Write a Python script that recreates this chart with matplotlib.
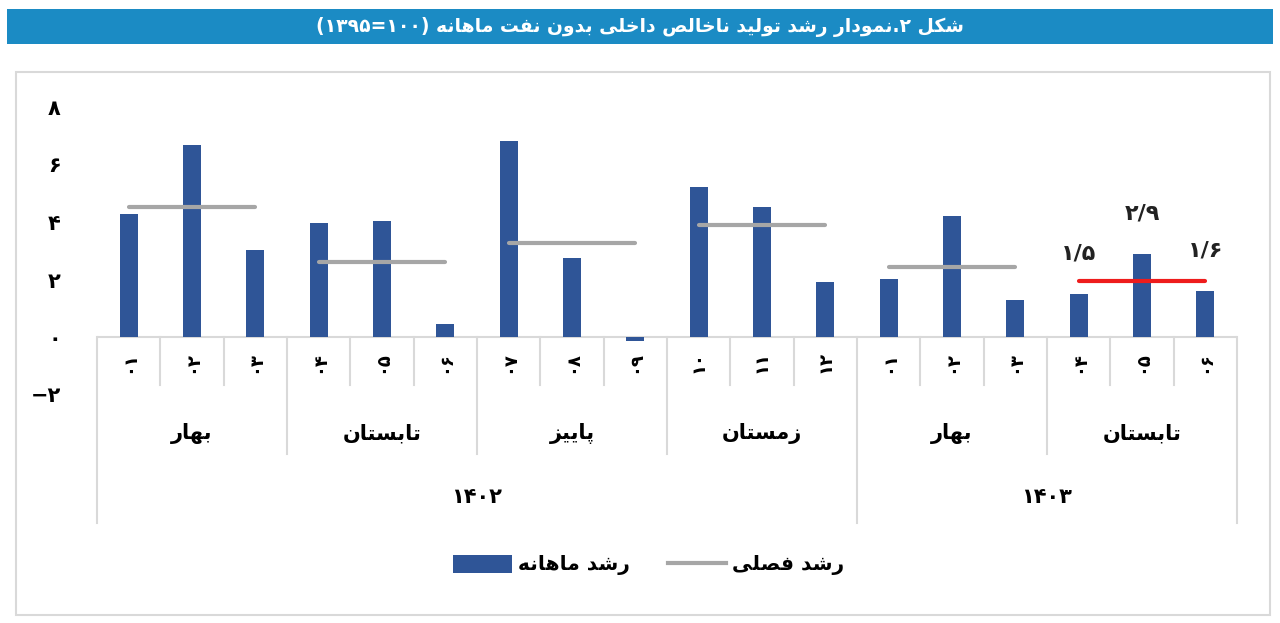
import re
import matplotlib
matplotlib.use('Agg')
import matplotlib.pyplot as plt
from matplotlib.patches import Rectangle, Patch
from matplotlib.lines import Line2D
from matplotlib.transforms import blended_transform_factory

# data
month_labels = ['01', '02', '03', '04', '05', '06', '07', '08', '09', '10', '11', '12',
                '01', '02', '03', '04', '05', '06']
seasons = ['بهار', 'تابستان', 'پاییز', 'زمستان', 'بهار', 'تابستان']
years = ['1402', '1403']
year_months = [12, 6]
monthly = [4.28, 6.68, 3.03, 3.97, 4.03, 0.45, 6.82, 2.75, -0.15, 5.22, 4.52, 1.91,
           2.02, 4.21, 1.29, 1.5, 2.9, 1.6]
seasonal = [4.52, 2.61, 3.27, 3.9, 2.43, 1.95]
y_ticks = [-2, 0, 2, 4, 6, 8]

title = 'شکل ۲.نمودار رشد تولید ناخالص داخلی بدون نفت ماهانه (۱۰۰=۱۳۹۵)'
legend_bar = 'رشد ماهانه'
legend_line = 'رشد فصلی'

BLUE = '#2f5597'
GRAY = '#a6a6a6'
RED = '#ee1c1c'
FRAME = '#d9d9d9'

# minimal arabic shaping (matplotlib has no text shaping / bidi)
JOIN = {
    'ا': (0xFE8D, False), 'ب': (0xFE8F, True), 'پ': (0xFB56, True), 'ت': (0xFE95, True),
    'خ': (0xFEA5, True), 'د': (0xFEA9, False), 'ر': (0xFEAD, False), 'ز': (0xFEAF, False),
    'س': (0xFEB1, True), 'ش': (0xFEB5, True), 'ص': (0xFEB9, True), 'ف': (0xFED1, True),
    'ل': (0xFEDD, True), 'م': (0xFEE1, True), 'ن': (0xFEE5, True), 'ه': (0xFEE9, True),
    'و': (0xFEED, False), 'ک': (0xFB8E, True), 'ی': (0xFBFC, True),
}


def shape(s):
    out = []
    for i, ch in enumerate(s):
        if ch not in JOIN:
            out.append(ch)
            continue
        base, dual = JOIN[ch]
        prev = s[i - 1] if i > 0 else ''
        nxt = s[i + 1] if i + 1 < len(s) else ''
        p = prev in JOIN and JOIN[prev][1]
        n = dual and nxt in JOIN
        form = 3 if (p and n) else 1 if p else 2 if n else 0
        out.append(chr(base + form))
    return ''.join(out)


def fa(s):
    tokens = re.findall(r'[۰-۹0-9]+|.', shape(s))
    mirror = {'(': ')', ')': '('}
    return ''.join(mirror.get(t, t) for t in reversed(tokens))


def fa_num(s):
    return str(s).translate(str.maketrans('0123456789.-', '۰۱۲۳۴۵۶۷۸۹/−'))


W, H = 1280, 623


def fy(px):
    return 1 - px / H


plt.rcParams['font.family'] = ['DejaVu Sans']
fig = plt.figure(figsize=(W / 100, H / 100), dpi=100)

# title bar and outer frame
fig.patches.append(Rectangle((7 / W, fy(44)), 1266 / W, 35 / H, transform=fig.transFigure,
                             facecolor='#1b8bc4', edgecolor='none'))
fig.text(0.5, fy(27), fa(title), color='white', fontsize=13.5, fontweight='bold',
         ha='center', va='center')
fig.patches.append(Rectangle((16 / W, fy(615)), 1254 / W, 543 / H, transform=fig.transFigure,
                             facecolor='none', edgecolor=FRAME, lw=1.5))

ax = fig.add_axes([97 / W, fy(394.5), 1140 / W, 287.5 / H])
n = len(monthly)
x = list(range(n))
ax.bar(x, monthly, width=0.285, color=BLUE, zorder=3)
ax.axhline(0, color=FRAME, lw=1.5, zorder=2)

for k, v in enumerate(seasonal):
    ax.plot([3 * k, 3 * k + 2], [v, v], color=RED if k == len(seasonal) - 1 else GRAY,
            lw=3, solid_capstyle='round', zorder=4)

for i in range(n - 3, n):
    ax.annotate(fa_num(monthly[i]), (i, monthly[i]), xytext=(0, 29), textcoords='offset points',
                ha='center', va='center', fontsize=16, fontweight='bold', color='#222222')

ax.set_xlim(-0.5, n - 0.5)
ax.set_ylim(-2, 8)
ax.set_yticks(y_ticks)
ax.set_yticklabels([fa_num(t) for t in y_ticks], fontsize=15, fontweight='bold')
ax.tick_params(axis='y', length=0, pad=26)
ax.set_xticks([])
for sp in ax.spines.values():
    sp.set_visible(False)

# multi-level category axis
tr = blended_transform_factory(ax.transData, fig.transFigure)
year_edges = [0]
for m in year_months:
    year_edges.append(year_edges[-1] + m)
for b in range(n + 1):
    if b in year_edges:
        bottom = 523
    elif b % 3 == 0:
        bottom = 454
    else:
        bottom = 385
    ax.plot([b - 0.5, b - 0.5], [fy(337), fy(bottom)], color=FRAME, lw=1.5,
            transform=tr, clip_on=False)

for i, lab in enumerate(month_labels):
    ax.text(i, fy(362), fa_num(lab), rotation=90, ha='center', va='center', fontsize=13,
            fontweight='bold', transform=tr)
for k, s in enumerate(seasons):
    ax.text(3 * k + 1, fy(433), fa(s), ha='center', va='center', fontsize=15,
            fontweight='bold', transform=tr)
for k, yname in enumerate(years):
    mid = (year_edges[k] + year_edges[k + 1] - 1) / 2
    ax.text(mid, fy(497), fa_num(yname), ha='center', va='center', fontsize=15,
            fontweight='bold', transform=tr)

handles = [Patch(facecolor=BLUE, edgecolor='none'), Line2D([], [], color=GRAY, lw=3)]
fig.legend(handles, [fa(legend_bar), fa(legend_line)], loc='center', ncol=2,
           bbox_to_anchor=(649 / W, fy(565)), frameon=False,
           prop={'size': 14.5, 'weight': 'bold'},
           handlelength=2.9, handleheight=1.0, handletextpad=0.3, columnspacing=1.9)

fig.savefig('out.png', dpi=100)
